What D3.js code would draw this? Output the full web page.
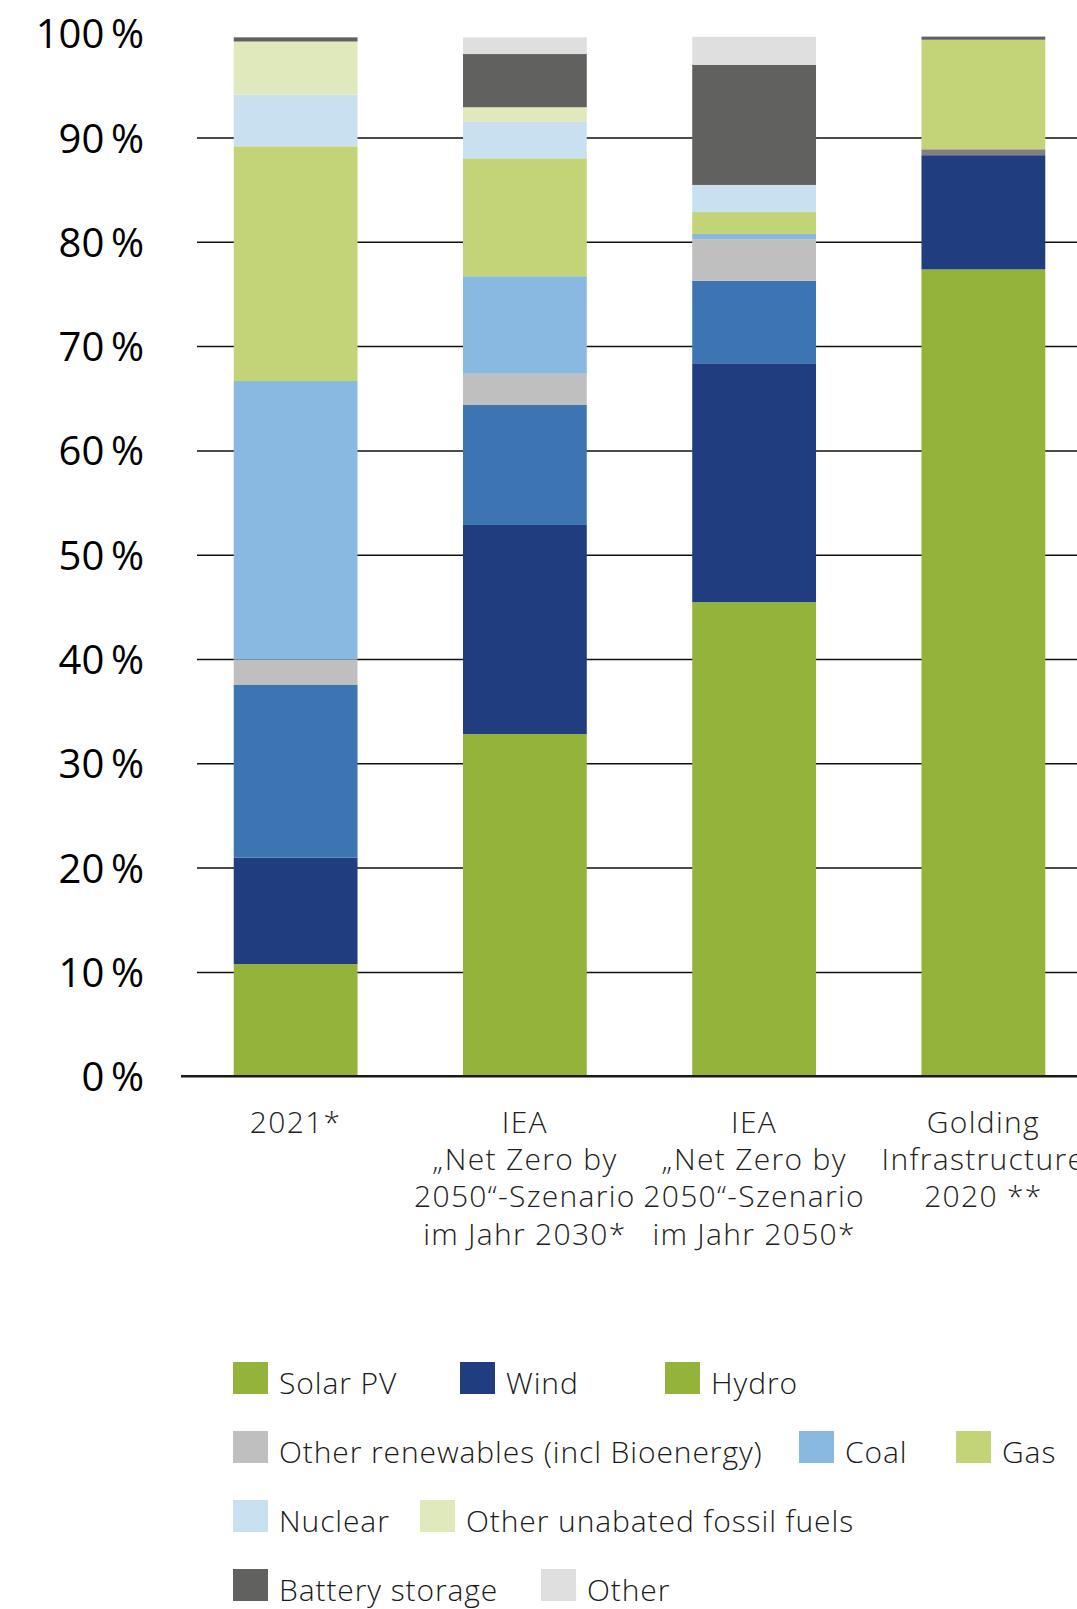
<!DOCTYPE html>
<html>
<head>
<meta charset="utf-8">
<script src="https://cdn.jsdelivr.net/npm/d3@7"></script>
<style>
  html, body { margin: 0; padding: 0; background: #fff; }
  svg { display: block; font-family: "Open Sans", "Noto Sans", sans-serif; }
</style>
</head>
<body>
<svg id="chart" width="1077" height="1609"></svg>
<script>
// Share of electricity generation by source (percent of total)
const categories = ["2021", "IEA 2030", "IEA 2050", "Golding 2020"];
const categoryLabels = [
  ["2021*"],
  ["IEA", "„Net Zero by", "2050“-Szenario", "im Jahr 2030*"],
  ["IEA", "„Net Zero by", "2050“-Szenario", "im Jahr 2050*"],
  ["Golding", "Infrastructure", "2020 **"]
];

const seriesNames = [
  "Solar PV", "Wind", "Hydro", "Other renewables (incl Bioenergy)", "Coal",
  "Gas", "Nuclear", "Other unabated fossil fuels", "Battery storage", "Other"
];

const solarPV         = [10.8, 32.85, 45.5, 77.4];
const wind            = [10.2, 20.05, 22.9, 10.95];
const hydro           = [16.6, 11.5, 7.9, 0];
const otherRenewables = [2.4, 3.0, 4.0, 0.57];
const coal            = [26.7, 9.35, 0.5, 0];
const gas             = [22.5, 11.3, 2.1, 10.5];
const nuclear         = [4.95, 3.5, 2.6, 0];
const otherFossil     = [5.1, 1.4, 0, 0];
const batteryStorage  = [0.4, 5.1, 11.5, 0.3];
const other           = [0, 1.6, 2.7, 0];

const yTicks = [0, 10, 20, 30, 40, 50, 60, 70, 80, 90, 100];

// Legend arrangement (series per row)
const legendRows = [
  ["Solar PV", "Wind", "Hydro"],
  ["Other renewables (incl Bioenergy)", "Coal", "Gas"],
  ["Nuclear", "Other unabated fossil fuels"],
  ["Battery storage", "Other"]
];

// ---- styling ----
const colors = {
  "Solar PV": "#93b33a",
  "Wind": "#203d7f",
  "Hydro": "#3d75b3",
  "Other renewables (incl Bioenergy)": "#bfbfbf",
  "Coal": "#89b8e1",
  "Gas": "#c3d478",
  "Nuclear": "#c8e0ef",
  "Other unabated fossil fuels": "#e0e9bc",
  "Battery storage": "#61615f",
  "Other": "#dfdfdf"
};
// the Golding bar shows its bioenergy slice in a darker grey
const cellColor = { "Golding 2020|Other renewables (incl Bioenergy)": "#808080" };
// legend swatch colours (Hydro swatch printed in green)
const legendColors = Object.assign({}, colors, { "Hydro": "#93b33a" });
const legendX = [
  [233, 460, 665],
  [233, 799, 956],
  [233, 420],
  [233, 541]
];

const valuesBySeries = [solarPV, wind, hydro, otherRenewables, coal, gas,
  nuclear, otherFossil, batteryStorage, other];

const table = categories.map((c, i) => {
  const row = { category: c };
  seriesNames.forEach((s, j) => { row[s] = valuesBySeries[j][i]; });
  return row;
});

const svg = d3.select("#chart");

const x = d3.scaleBand()
  .domain(categories)
  .range([181, 1098])
  .paddingInner(0.46)
  .paddingOuter(0.23);

const y = d3.scaleLinear().domain([0, 100]).range([1076.7, 33.7]);

// gridlines
svg.append("g")
  .selectAll("line")
  .data(yTicks.filter(t => t > 0 && t < 100))
  .join("line")
  .attr("x1", 197).attr("x2", 1077)
  .attr("y1", d => y(d)).attr("y2", d => y(d))
  .attr("stroke", "#111").attr("stroke-width", 1.5);

// stacked bars
const stacked = d3.stack().keys(seriesNames)(table);
svg.append("g")
  .selectAll("g")
  .data(stacked)
  .join("g")
  .each(function (layer) {
    d3.select(this).selectAll("rect")
      .data(layer.filter(d => d[1] - d[0] > 0))
      .join("rect")
      .attr("x", d => x(d.data.category))
      .attr("width", x.bandwidth())
      .attr("y", d => y(d[1]))
      .attr("height", d => y(d[0]) - y(d[1]))
      .attr("fill", d => cellColor[d.data.category + "|" + layer.key] || colors[layer.key]);
  });

// baseline
svg.append("line")
  .attr("x1", 181).attr("x2", 1077)
  .attr("y1", y(0) - 0.5).attr("y2", y(0) - 0.5)
  .attr("stroke", "#1a1a1a").attr("stroke-width", 2.5);

// y axis labels
const yAxis = d3.axisLeft(y)
  .tickValues(yTicks)
  .tickSize(0)
  .tickPadding(0)
  .tickFormat(d => d + "\u2009%");
svg.append("g")
  .attr("transform", "translate(144,0)")
  .call(yAxis)
  .call(g => g.select(".domain").remove())
  .call(g => g.selectAll("text")
    .attr("font-family", "'Open Sans', sans-serif")
    .attr("font-size", 40)
    .attr("fill", "#000")
    .attr("dy", "0.35em"));

// x axis labels (multi-line)
const xAxis = d3.axisBottom(x).tickSize(0).tickFormat(() => "");
const xg = svg.append("g")
  .attr("transform", `translate(0,${y(0)})`)
  .call(xAxis)
  .call(g => g.select(".domain").remove());
xg.selectAll(".tick").each(function (d, i) {
  const t = d3.select(this).append("text")
    .attr("text-anchor", "middle")
    .attr("font-family", "'Open Sans', sans-serif")
    .attr("font-size", 30)
    .attr("font-weight", 300)
    .attr("letter-spacing", 1.3)
    .attr("fill", "#222");
  categoryLabels[i].forEach((line, k) => {
    t.append("tspan").attr("x", 0).attr("y", 56 + k * 37.3).text(line);
  });
});

// legend
const legend = svg.append("g");
legendRows.forEach((row, r) => {
  const top = 1362 + r * 69;
  row.forEach((name, k) => {
    const gx = legendX[r][k];
    legend.append("rect")
      .attr("x", gx).attr("y", top)
      .attr("width", 35).attr("height", 32)
      .attr("fill", legendColors[name]);
    legend.append("text")
      .attr("x", gx + 46).attr("y", top + 32)
      .attr("font-family", "'Open Sans', sans-serif")
      .attr("font-size", 30)
      .attr("font-weight", 300)
      .attr("letter-spacing", 0.9)
      .attr("fill", "#1a1a1a")
      .text(name);
  });
});
</script>
</body>
</html>
